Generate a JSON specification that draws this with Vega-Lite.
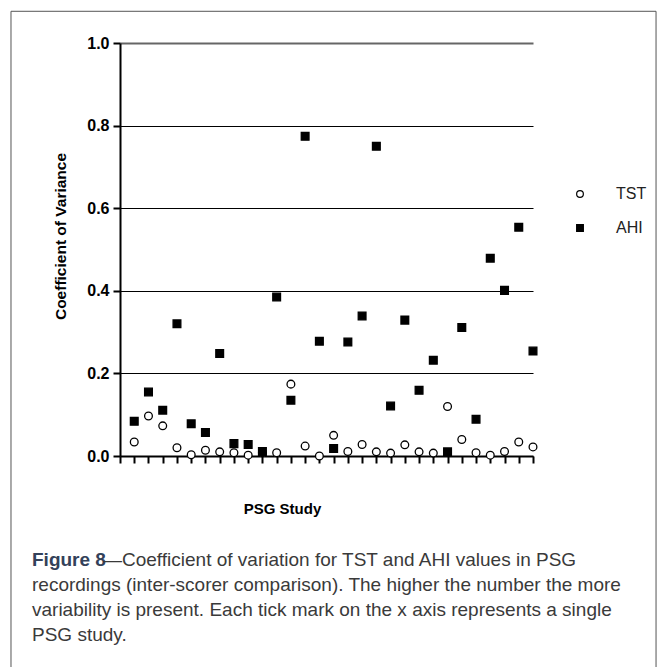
{
  "$schema": "https://vega.github.io/schema/vega-lite/v6.json",
  "width": 413,
  "height": 413,
  "autosize": {"type": "none"},
  "padding": {"left": 120, "top": 43, "right": 134, "bottom": 211},
  "background": "white",
  "config": {"view": {"stroke": null}, "font": "Liberation Sans"},
  "title": {
    "text": "Figure 8",
    "subtitle": [
      "\u2800\u2003\u2003\u2003—Coefficient of variation for TST and AHI values in PSG",
      "recordings (inter-scorer comparison). The higher the number the more",
      "variability is present. Each tick mark on the x axis represents a single",
      "PSG study."
    ],
    "orient": "bottom",
    "anchor": "start",
    "frame": "group",
    "dx": -88,
    "offset": -120,
    "font": "Liberation Sans",
    "fontSize": 19,
    "fontWeight": "bold",
    "color": "#33415a",
    "subtitleFont": "Liberation Sans",
    "subtitleFontSize": 19,
    "subtitleColor": "#3a3a3a",
    "subtitleLineHeight": 25,
    "subtitlePadding": -19
  },
  "layer": [
    {
      "data": {
        "values": [
          {"study": 1, "series": "TST", "value": 0.034},
          {"study": 2, "series": "TST", "value": 0.097},
          {"study": 3, "series": "TST", "value": 0.073},
          {"study": 4, "series": "TST", "value": 0.020},
          {"study": 5, "series": "TST", "value": 0.003},
          {"study": 6, "series": "TST", "value": 0.014},
          {"study": 7, "series": "TST", "value": 0.010},
          {"study": 8, "series": "TST", "value": 0.008},
          {"study": 9, "series": "TST", "value": 0.002},
          {"study": 10, "series": "TST", "value": 0.008},
          {"study": 11, "series": "TST", "value": 0.008},
          {"study": 12, "series": "TST", "value": 0.174},
          {"study": 13, "series": "TST", "value": 0.024},
          {"study": 14, "series": "TST", "value": 0.000},
          {"study": 15, "series": "TST", "value": 0.050},
          {"study": 16, "series": "TST", "value": 0.011},
          {"study": 17, "series": "TST", "value": 0.028},
          {"study": 18, "series": "TST", "value": 0.010},
          {"study": 19, "series": "TST", "value": 0.007},
          {"study": 20, "series": "TST", "value": 0.027},
          {"study": 21, "series": "TST", "value": 0.010},
          {"study": 22, "series": "TST", "value": 0.007},
          {"study": 23, "series": "TST", "value": 0.120},
          {"study": 24, "series": "TST", "value": 0.040},
          {"study": 25, "series": "TST", "value": 0.008},
          {"study": 26, "series": "TST", "value": 0.002},
          {"study": 27, "series": "TST", "value": 0.011},
          {"study": 28, "series": "TST", "value": 0.034},
          {"study": 29, "series": "TST", "value": 0.022},
          {"study": 1, "series": "AHI", "value": 0.084},
          {"study": 2, "series": "AHI", "value": 0.155},
          {"study": 3, "series": "AHI", "value": 0.111},
          {"study": 4, "series": "AHI", "value": 0.320},
          {"study": 5, "series": "AHI", "value": 0.078},
          {"study": 6, "series": "AHI", "value": 0.057},
          {"study": 7, "series": "AHI", "value": 0.248},
          {"study": 8, "series": "AHI", "value": 0.030},
          {"study": 9, "series": "AHI", "value": 0.028},
          {"study": 10, "series": "AHI", "value": 0.011},
          {"study": 11, "series": "AHI", "value": 0.385},
          {"study": 12, "series": "AHI", "value": 0.135},
          {"study": 13, "series": "AHI", "value": 0.774},
          {"study": 14, "series": "AHI", "value": 0.278},
          {"study": 15, "series": "AHI", "value": 0.018},
          {"study": 16, "series": "AHI", "value": 0.276},
          {"study": 17, "series": "AHI", "value": 0.339},
          {"study": 18, "series": "AHI", "value": 0.750},
          {"study": 19, "series": "AHI", "value": 0.121},
          {"study": 20, "series": "AHI", "value": 0.329},
          {"study": 21, "series": "AHI", "value": 0.159},
          {"study": 22, "series": "AHI", "value": 0.232},
          {"study": 23, "series": "AHI", "value": 0.010},
          {"study": 24, "series": "AHI", "value": 0.311},
          {"study": 25, "series": "AHI", "value": 0.089},
          {"study": 26, "series": "AHI", "value": 0.479},
          {"study": 27, "series": "AHI", "value": 0.401},
          {"study": 28, "series": "AHI", "value": 0.554},
          {"study": 29, "series": "AHI", "value": 0.254}
        ]
      },
      "mark": {"type": "point", "filled": false, "strokeWidth": 1.3, "size": 60, "opacity": 1, "clip": false},
      "encoding": {
        "x": {
          "field": "study",
          "type": "quantitative",
          "scale": {"domain": [0, 29], "nice": false, "zero": false},
          "axis": {
            "values": [0,1,2,3,4,5,6,7,8,9,10,11,12,13,14,15,16,17,18,19,20,21,22,23,24,25,26,27,28,29],
            "labels": false,
            "grid": false,
            "ticks": true,
            "tickSize": 7,
            "tickWidth": 2,
            "tickColor": "black",
            "domainColor": "black",
            "domainWidth": 2,
            "title": "PSG Study",
            "titleFont": "Liberation Sans",
            "titleFontSize": 15,
            "titleFontWeight": "bold",
            "titleColor": "black",
            "titleX": 162,
            "titleY": 52,
            "titleBaseline": "middle",
            "titleAlign": "center"
          }
        },
        "y": {
          "field": "value",
          "type": "quantitative",
          "scale": {"domain": [0, 1], "nice": false},
          "axis": {
            "values": [0, 0.2, 0.4, 0.6, 0.8, 1.0],
            "format": ".1f",
            "labelFont": "Liberation Sans",
            "labelFontSize": 16,
            "labelFontWeight": "bold",
            "labelColor": "black",
            "labelPadding": 4,
            "tickSize": 7,
            "tickWidth": 2,
            "tickColor": "black",
            "domainColor": "black",
            "domainWidth": 2,
            "grid": true,
            "gridColor": {"condition": {"test": "datum.value == 1", "value": "#666666"}, "value": "black"},
            "gridWidth": {"condition": {"test": "datum.value == 1", "value": 2}, "value": 1.2},
            "gridOpacity": 1,
            "title": "Coefficient of Variance",
            "titleFont": "Liberation Sans",
            "titleFontSize": 15.5,
            "titleFontWeight": "bold",
            "titleColor": "black",
            "titleAngle": -90,
            "titleX": -60,
            "titleY": 193,
            "titleBaseline": "middle",
            "titleAlign": "center"
          }
        },
        "stroke": {"value": "black"},
        "opacity": {"value": 1},
        "shape": {
          "field": "series",
          "type": "nominal",
          "scale": {"domain": ["TST", "AHI"], "range": ["circle", "square"]},
          "legend": {
            "orient": "none",
            "legendX": 452,
            "legendY": 143,
            "title": null,
            "labelFont": "Liberation Sans",
            "labelFontSize": 16,
            "labelColor": "#222222",
            "symbolSize": 45,
            "symbolStrokeWidth": 1.2,
            "labelOffset": 28,
            "rowPadding": 18
          }
        },
        "fill": {
          "field": "series",
          "type": "nominal",
          "scale": {"domain": ["TST", "AHI"], "range": ["white", "black"]},
          "legend": {
            "orient": "none",
            "legendX": 452,
            "legendY": 143,
            "title": null,
            "labelFont": "Liberation Sans",
            "labelFontSize": 16,
            "labelColor": "#222222",
            "symbolSize": 45,
            "symbolStrokeWidth": 1.2,
            "labelOffset": 28,
            "rowPadding": 18
          }
        }
      }
    },
    {
      "data": {"values": [{"frame": "border"}]},
      "mark": {"type": "rect", "fill": null, "stroke": "#555555", "strokeWidth": 1, "clip": false},
      "encoding": {
        "x": {
          "datum": -7.654,
          "type": "quantitative",
          "scale": {"domain": [0, 29], "nice": false, "zero": false},
          "axis": {
            "values": [0,1,2,3,4,5,6,7,8,9,10,11,12,13,14,15,16,17,18,19,20,21,22,23,24,25,26,27,28,29],
            "labels": false,
            "grid": false,
            "ticks": true,
            "tickSize": 7,
            "tickWidth": 2,
            "tickColor": "black",
            "domainColor": "black",
            "domainWidth": 2,
            "title": "PSG Study",
            "titleFont": "Liberation Sans",
            "titleFontSize": 15,
            "titleFontWeight": "bold",
            "titleColor": "black",
            "titleX": 162,
            "titleY": 52,
            "titleBaseline": "middle",
            "titleAlign": "center"
          }
        },
        "x2": {"datum": 37.64},
        "y": {"datum": 1.0768, "type": "quantitative", "scale": {"domain": [0, 1], "nice": false}},
        "y2": {"datum": -0.519}
      }
    }
  ]
}
